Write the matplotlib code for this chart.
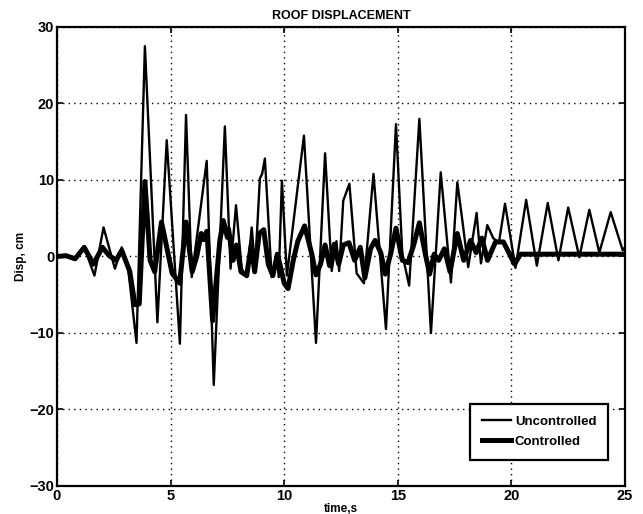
import matplotlib.pyplot as plt
import numpy as np

plt.rcParams['font.family'] = ['Liberation Sans', 'DejaVu Sans']
plt.rcParams['font.weight'] = 'bold'

# uncontrolled roof displacement (peaks / troughs)
t_unc = [0.0, 0.4, 0.8, 1.2, 1.65, 2.05, 2.55, 2.85, 3.15, 3.5, 3.87, 4.42, 4.83, 5.41,
         5.68, 5.93, 6.59, 6.9, 7.39, 7.64, 7.88, 8.13, 8.36, 8.57, 8.72, 8.93, 9.03,
         9.15, 9.45, 9.67, 9.76, 9.9, 10.12, 10.87, 11.4, 11.8, 12.09, 12.3, 12.42,
         12.6, 12.87, 13.19, 13.51, 13.93, 14.48, 14.92, 15.2, 15.5, 15.95, 16.46,
         16.89, 17.34, 17.62, 17.85, 18.1, 18.47, 18.66, 18.94, 19.2, 19.45, 19.72,
         20.18, 20.65, 21.12, 21.6, 22.07, 22.5, 22.99, 23.43, 23.87, 24.37, 24.9, 25.0]
d_unc = [0.0, 0.2, -0.2, 1.2, -2.5, 3.8, -1.6, 1.2, -2.0, -11.3, 27.5, -8.6, 15.2, -11.4,
         18.5, -2.7, 12.5, -16.8, 17.0, -1.6, 6.7, -1.6, -2.7, 3.8, -1.5, 10.2, 10.8,
         12.8, -2.7, 0.4, -2.7, 9.9, -2.5, 15.8, -11.3, 13.5, -1.9, 2.0, -1.9,
         7.3, 9.5, -2.2, -3.5, 10.8, -9.5, 17.3, 0.3, -3.8, 18.0, -10.0,
         11.0, -3.4, 9.7, 4.5, -1.4, 5.7, -0.9, 4.1, 2.4, 1.8, 6.9,
         -1.5, 7.4, -1.2, 7.0, -0.5, 6.4, -0.1, 6.1, 0.5, 5.8, 0.8, 1.2]

# controlled roof displacement
t_con = [0.0, 0.4, 0.8, 1.2, 1.6, 2.0, 2.3, 2.6, 2.85, 3.2, 3.43, 3.62, 3.87, 4.1, 4.3,
         4.6, 5.07, 5.4, 5.68, 5.95, 6.15, 6.35, 6.45, 6.6, 6.85, 7.17, 7.32, 7.5, 7.55,
         7.75, 7.9, 8.1, 8.35, 8.55, 8.7, 8.9, 9.1, 9.3, 9.5, 9.7, 9.85, 10.0, 10.17,
         10.4, 10.6, 10.9, 11.2, 11.4, 11.6, 11.8, 12.0, 12.2, 12.4, 12.6, 12.85, 13.1,
         13.35, 13.55, 13.8, 14.0, 14.25, 14.45, 14.7, 14.92, 15.2, 15.45, 15.7, 15.95,
         16.2, 16.4, 16.6, 16.8, 17.05, 17.3, 17.62, 17.9, 18.2, 18.45, 18.7, 18.95,
         19.3, 19.65, 20.14, 20.4, 25.0]
d_con = [0.0, 0.1, -0.3, 1.2, -1.0, 1.2, 0.1, -0.5, 0.8, -1.9, -6.3, -6.2, 9.8, -0.5, -2.0,
         4.5, -2.2, -3.5, 4.5, -2.0, 0.0, 3.0, 2.2, 3.3, -8.4, 2.1, 4.7, 2.5, 3.6,
         -0.5, 1.5, -2.0, -2.5, 1.5, -2.0, 3.0, 3.5, -1.0, -2.5, 0.3, -1.5, -3.5, -4.2,
         -0.5, 2.0, 4.0, 0.5, -2.4, -1.0, 1.5, -1.2, 1.6, -1.0, 1.5, 1.8, -0.5,
         1.2, -2.8, 1.0, 2.1, 0.5, -2.3, 0.5, 3.7, -0.5, -0.8, 1.5, 4.4,
         0.5, -2.3, 0.3, -0.5, 1.0, -2.0, 3.0, -0.5, 2.1, 0.5, 2.4, -0.5,
         1.9, 1.9, -1.0, 0.3, 0.3]

fig = plt.figure(figsize=(6.43, 5.14), dpi=100)
ax = fig.add_axes([0.0886, 0.0545, 0.8834, 0.893])

ax.plot(t_unc, d_unc, color='black', linewidth=1.7, label='Uncontrolled')
ax.plot(t_con, d_con, color='black', linewidth=3.6, label='Controlled')

ax.set_xlim(0, 25)
ax.set_ylim(-30, 30)
ax.set_xticks([0, 5, 10, 15, 20, 25])
ax.set_yticks([-30, -20, -10, 0, 10, 20, 30])
ax.grid(True, color='black', linestyle=(0, (1, 3)), linewidth=1.0)
ax.tick_params(direction='in', top=True, right=True, length=4, width=1.2,
               labelsize=10.5, pad=2)
for lab in ax.get_xticklabels() + ax.get_yticklabels():
    lab.set_fontweight('bold')
for s in ax.spines.values():
    s.set_linewidth(1.6)

ax.set_title('ROOF DISPLACEMENT', fontsize=9, fontweight='bold', pad=6)
ax.set_xlabel('time,s', fontsize=8.5, fontweight='bold', labelpad=0)
ax.set_ylabel('Disp, cm', fontsize=8.5, fontweight='bold', labelpad=2)

leg = ax.legend(loc='lower right', bbox_to_anchor=(0.982, 0.043), fancybox=False,
                edgecolor='black', framealpha=1, handlelength=2.2,
                borderpad=0.9, labelspacing=0.6, handletextpad=0.3,
                prop={'size': 9.5, 'weight': 'bold'})
leg.get_frame().set_linewidth(1.6)

fig.savefig('out.png', dpi=100)
